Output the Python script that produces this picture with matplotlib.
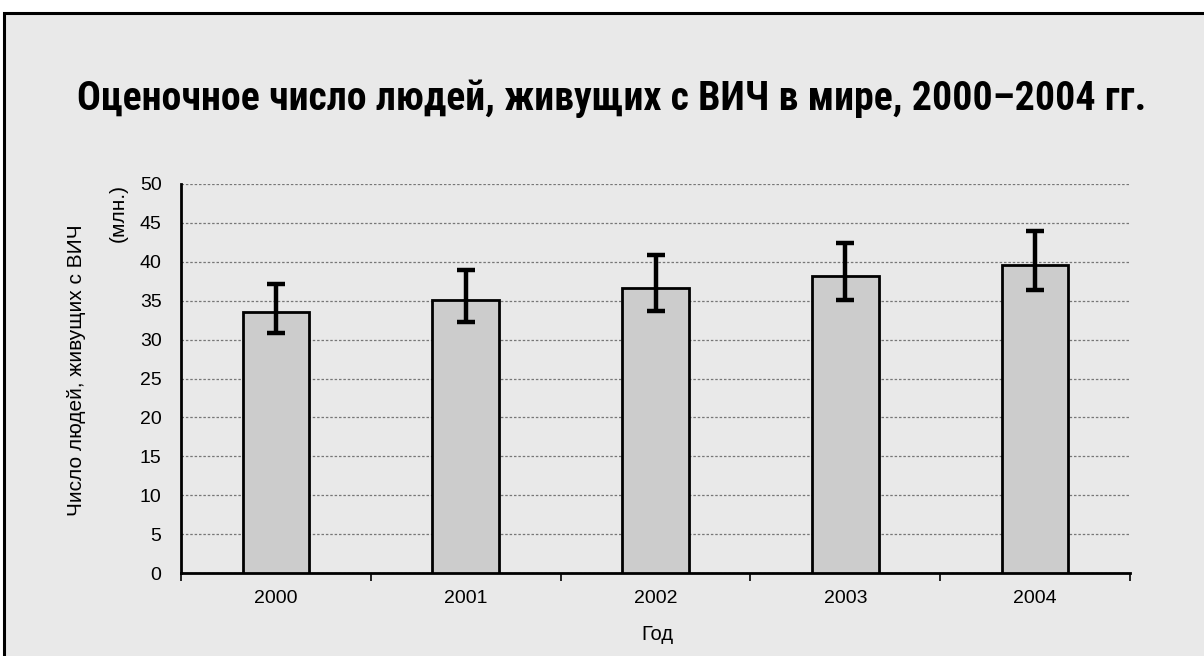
import matplotlib
matplotlib.use("Agg")
import matplotlib.pyplot as plt
from matplotlib.patches import Rectangle
from matplotlib import font_manager
import numpy as np

years = ["2000", "2001", "2002", "2003", "2004"]
values = [33.5, 35.05, 36.6, 38.2, 39.6]
err_low = [30.8, 32.2, 33.7, 35.05, 36.4]
err_high = [37.1, 39.0, 40.9, 42.4, 44.0]

title = "Оценочное число людей, живущих с ВИЧ в мире, 2000–2004 гг."
ylabel1 = "Число людей, живущих с ВИЧ"
ylabel2 = "(млн.)"
xlabel = "Год"

names = {f.name for f in font_manager.fontManager.ttflist}
title_font = next((n for n in ["Roboto Condensed", "PT Sans Narrow", "Archivo Narrow",
                               "Liberation Sans Narrow"] if n in names), "Liberation Sans")
plt.rcParams['font.family'] = ['Liberation Sans', 'DejaVu Sans']

W, H = 1204, 656
fig = plt.figure(figsize=(W/100, H/100), dpi=100)
fig.patch.set_facecolor("white")
bg = "#e9e9e9"
fig.add_artist(Rectangle((4/W, -0.02), 1.05, 1 - 13/H + 0.02, transform=fig.transFigure,
                         facecolor=bg, edgecolor="black", lw=2.2, zorder=0))

ax = fig.add_axes([181/W, 1 - 573/H, (1130-181)/W, (573-184)/H])
ax.set_facecolor(bg)
x = np.arange(len(years))
vals = np.array(values)
yerr = np.array([vals - np.array(err_low), np.array(err_high) - vals])
ax.bar(x, vals, width=0.35, color="#cccccc", edgecolor="black", linewidth=2, zorder=3)
ax.errorbar(x, vals, yerr=yerr, fmt="none", ecolor="black", elinewidth=3.2,
            capsize=6.5, capthick=3.2, zorder=4)

ax.set_xlim(-0.5, len(years) - 0.5)
ax.set_ylim(0, 50)
ax.set_yticks(np.arange(0, 51, 5))
ax.yaxis.grid(True, linestyle=(0, (2, 1.5)), color="#777777", linewidth=0.9, zorder=1)
ax.set_axisbelow(True)
ax.set_xticks(x)
ax.set_xticklabels(years, fontsize=14)
ax.set_xticks(np.arange(-0.5, len(years), 1), minor=True)
ax.tick_params(axis="x", which="major", length=0, pad=12)
ax.tick_params(axis="x", which="minor", length=6, width=1.2, direction="out")
ax.tick_params(axis="y", length=0, labelsize=14, pad=14)
for s in ["top", "right"]:
    ax.spines[s].set_visible(False)
for s in ["left", "bottom"]:
    ax.spines[s].set_linewidth(2)

fig.text(612/W, 1 - 110/H, title, ha="center", va="baseline", fontsize=28.7,
         fontweight="bold", family=[title_font, "DejaVu Sans"])
fig.text(77/W, 1 - 370/H, ylabel1, rotation=90, ha="center", va="center", fontsize=15)
fig.text(118/W, 1 - 213/H, ylabel2, rotation=90, ha="center", va="center", fontsize=15)
fig.text(657/W, 1 - 634/H, xlabel, ha="center", va="center", fontsize=14.5)

fig.savefig("out.png", dpi=100, facecolor="white")
